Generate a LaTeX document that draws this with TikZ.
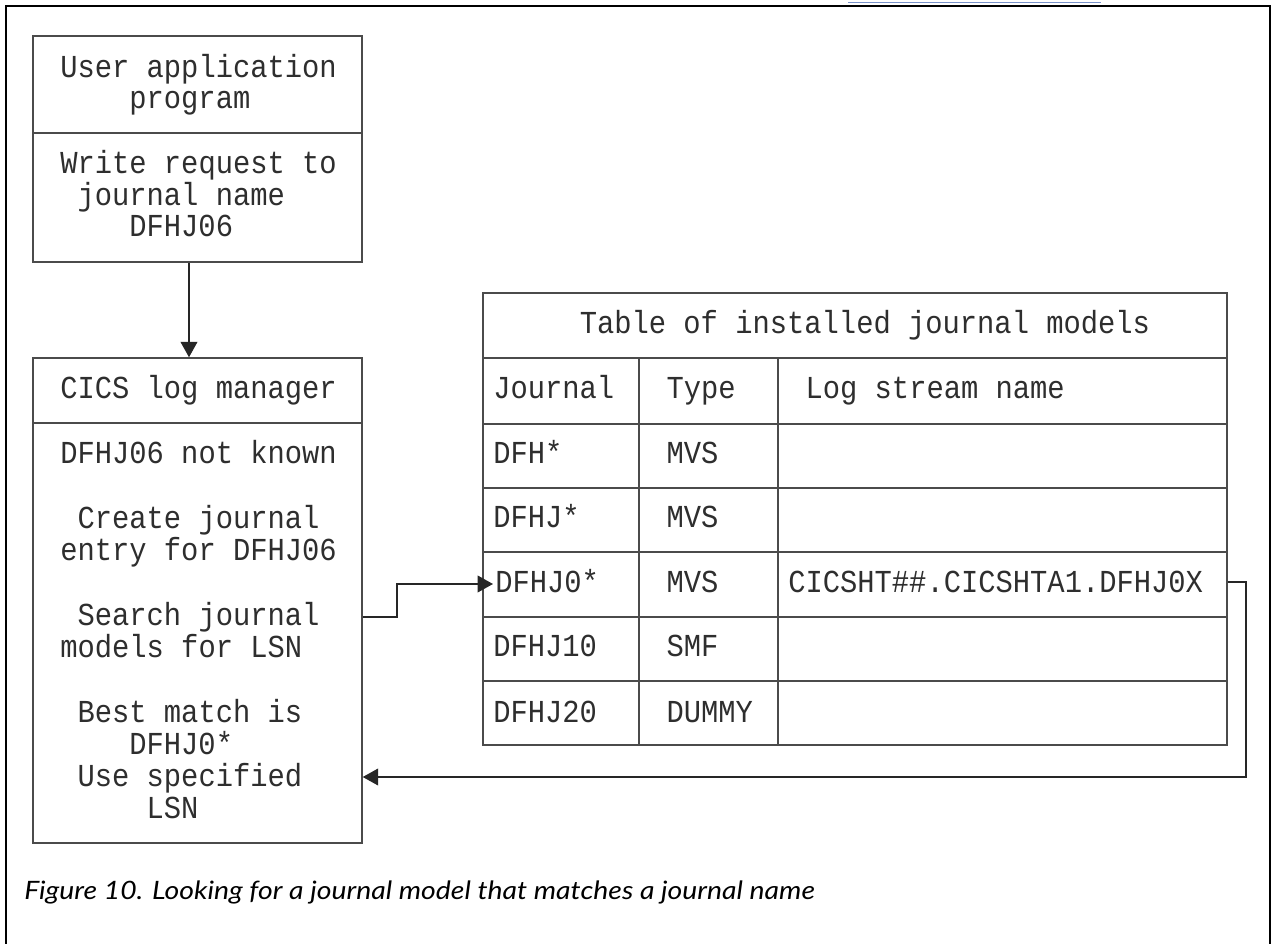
\documentclass[tikz,border=0pt]{standalone}
\usepackage{fontspec}
\setmainfont{Lato}
\newfontfamily\dmono[FakeStretch=0.9]{Liberation Mono}
\newfontfamily\capfont[FakeStretch=1.12]{Lato}
\usetikzlibrary{arrows.meta,calc}
\definecolor{linkblue}{RGB}{120,145,200}
\definecolor{lineg}{RGB}{75,75,75}
\begin{document}
\begin{tikzpicture}[x=0.75pt,y=-0.75pt,
  boxshape/.style={draw=lineg, line width=1.1pt, inner sep=0pt},
  rule/.style={draw=lineg, line width=1.1pt},
  mono/.style={font=\dmono\fontsize{24pt}{24pt}\selectfont, inner sep=0pt, anchor=base west, text=black!82},
  conn/.style={draw=black!85, line width=1.1pt},
  arr/.style={conn, -{Triangle[length=11.5pt,width=12.5pt]}},
  framestyle/.style={draw=black, line width=1.9pt}]
\useasboundingbox (0,0) rectangle (1274,944);
\fill[white] (0,0) rectangle (1274,944);
% outer frame and link underline from the page
\draw[framestyle] (6,960) -- (6,6) -- (1270,6) -- (1270,960);
\draw[linkblue, line width=1.1pt] (848,2.7) -- (1101,2.7);

% boxes
\node[boxshape, minimum width=246.75pt, minimum height=169.5pt] (user) at (197.5,149) {};
\node[boxshape, minimum width=246.75pt, minimum height=363.75pt] (cics) at (197.5,600.5) {};
\node[boxshape, minimum width=558pt, minimum height=339pt] (tbl) at (855,519) {};
\draw[rule] (33,133) -- (362,133);
\draw[rule] (33,423) -- (362,423);
% table rules
\foreach \yy in {358,424,488,552,617,681} \draw[rule] (483,\yy) -- (1227,\yy);
\draw[rule] (639,358) -- (639,745);
\draw[rule] (778,358) -- (778,745);

% user box text
\node[mono] (u1) at (60,77.5) {User application};
\node[mono] (u2) at (129.1,108.5) {program};
\node[mono] (u3) at (60,173.5) {Write request to};
\node[mono] (u4) at (77.3,205.5) {journal name};
\node[mono] (u5) at (129.1,236.5) {DFHJ06};

% CICS box text
\node[mono] (c1) at (60,398.5) {CICS log manager};
\node[mono] (c2) at (60,463.5) {DFHJ06 not known};
\node[mono] (c3) at (77.3,528.5) {Create journal};
\node[mono] (c4) at (60,560.5) {entry for DFHJ06};
\node[mono] (c5) at (77.3,625.5) {Search journal};
\node[mono] (c6) at (60,657.5) {models for LSN};
\node[mono] (c7) at (77.3,722.5) {Best match is};
\node[mono] (c8) at (129.1,754.5) {DFHJ0*};
\node[mono] (c9) at (77.3,786.5) {Use specified};
\node[mono] (c10) at (146.4,818.5) {LSN};

% table text
\node[mono] (th) at (579.5,333.5) {Table of installed journal models};
\node[mono] (hj) at (493,398.5) {Journal};
\node[mono] (ht) at (666.3,398.5) {Type};
\node[mono] (hl) at (805.3,398.5) {Log stream name};
\node[mono] (r1a) at (493,463.5) {DFH*};
\node[mono] (r1b) at (666.3,463.5) {MVS};
\node[mono] (r2a) at (493,527.5) {DFHJ*};
\node[mono] (r2b) at (666.3,527.5) {MVS};
\node[mono] (j0) at (495,592.5) {DFHJ0*};
\node[mono] (r3b) at (666.3,592.5) {MVS};
\node[mono] (lsn) at (788,592.5) {CICSHT\#\#.CICSHTA1.DFHJ0X};
\node[mono] (r4a) at (493,656.5) {DFHJ10};
\node[mono] (r4b) at (666.3,656.5) {SMF};
\node[mono] (r5a) at (493,722.5) {DFHJ20};
\node[mono] (r5b) at (666.3,722.5) {DUMMY};

% connectors
\draw[arr] ($(user.south)+(-8.5,0)$) -- ($(cics.north)+(-8.5,0)$);
\coordinate (e1) at (397,617);
\coordinate (e2) at (397,584);
\draw[arr] (cics.east |- e1) -| (e2) -- ($(j0.west |- e2)+(-2,0)$);
\coordinate (ret) at (1246,777);
\draw[arr] (tbl.east |- lsn) -| (ret) -- (cics.east |- ret);

% caption
\node[anchor=base west, inner sep=0pt, font=\capfont\fontsize{19pt}{19pt}\selectfont\itshape] (cap) at (24,899) {Figure 10. Looking for a journal model that matches a journal name};
\end{tikzpicture}
\end{document}
